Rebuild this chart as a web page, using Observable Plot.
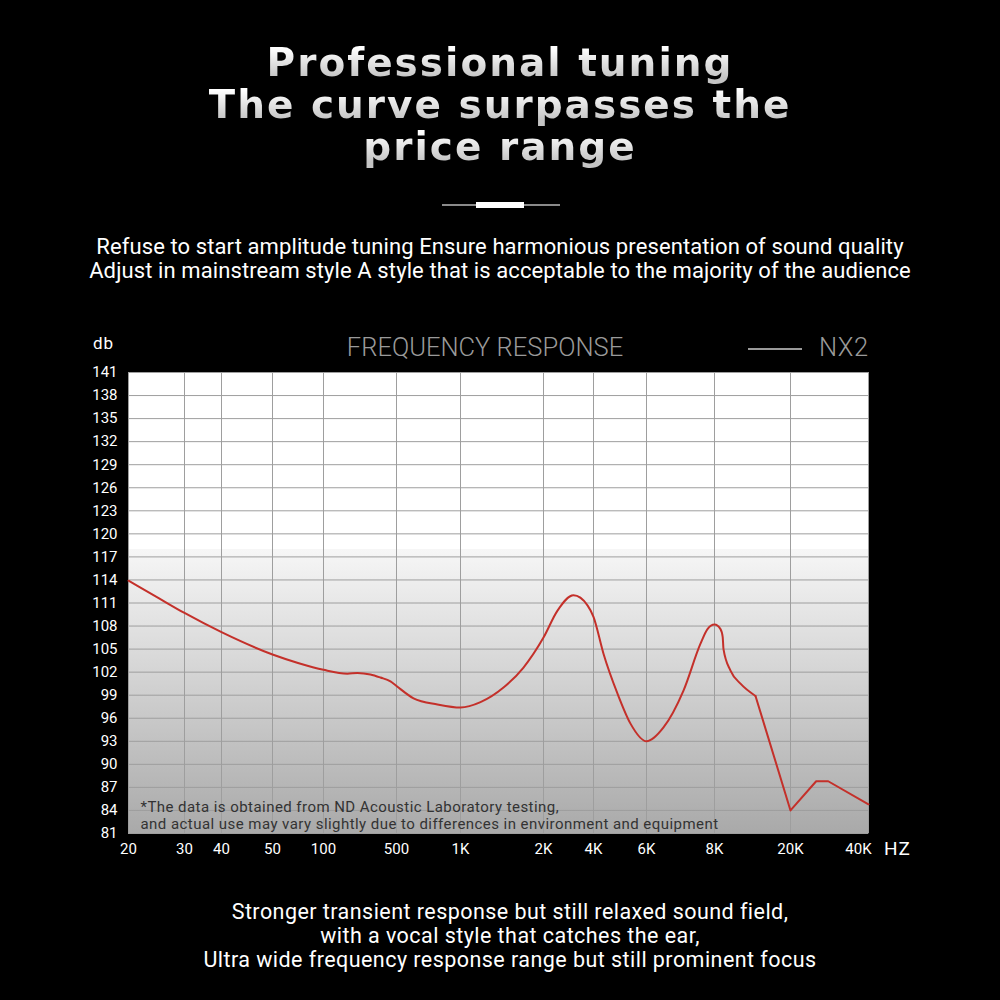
<!DOCTYPE html>
<html>
<head>
<meta charset="utf-8">
<script src="https://cdn.jsdelivr.net/npm/d3@7"></script>
<script src="https://cdn.jsdelivr.net/npm/@observablehq/plot@0.6"></script>
<style>
  html, body { margin: 0; padding: 0; background: #000; }
  body { width: 1000px; height: 1000px; position: relative; overflow: hidden; font-family: Roboto, "Open Sans", sans-serif; color: #fff; }
  .abs { position: absolute; }
  #title { top: 42px; left: 0; width: 1000px; text-align: center; font-family: "DejaVu Sans", sans-serif; font-weight: bold; font-size: 39px; letter-spacing: 2px; z-index: 2; }
  #title span { display: block; height: 42px; line-height: 42px; margin: 0 auto; width: max-content;
    background: linear-gradient(180deg, #ffffff 15%, #c4c4c4 85%); -webkit-background-clip: text; background-clip: text; color: transparent; }
  #sub { top: 235px; left: 0; width: 1000px; text-align: center; font-size: 22px; line-height: 24px; letter-spacing: 0.1px; z-index: 2; }
  #cap { top: 900px; left: 10px; width: 1000px; text-align: center; font-size: 21.5px; line-height: 24px; letter-spacing: 0.45px; z-index: 2; }
  #chartTitle { top: 332px; left: 285px; width: 400px; text-align: center; font-size: 25.5px; font-weight: 300; color: #9a9a9a; line-height: 30px; z-index: 2; }
  #legLine { top: 348px; left: 748px; width: 54px; height: 1.5px; background: #9a9a9a; z-index: 2; }
  #legText { top: 332px; left: 819px; font-size: 25.5px; font-weight: 300; color: #9a9a9a; line-height: 30px; letter-spacing: 0.5px; z-index: 2; }
  #db { top: 332px; left: 93px; font-size: 17px; line-height: 22px; letter-spacing: 1px; z-index: 2; }
  #hz { top: 837px; left: 884px; font-size: 19px; line-height: 24px; letter-spacing: 1px; z-index: 2; }
  #chart { top: 330px; left: 0; z-index: 1; }
  #chart g[aria-label="text"] text { letter-spacing: 0.45px; }
</style>
</head>
<body>
<div id="chart" class="abs"></div>
<div id="title" class="abs"><span>Professional tuning</span><span>The curve surpasses the</span><span>price range</span></div>
<div class="abs" style="top:204px;left:442px;width:118px;height:1.5px;background:#8a8a8a;"></div>
<div class="abs" style="top:202px;left:476px;width:48px;height:6px;background:#fff;"></div>
<div id="sub" class="abs">Refuse to start amplitude tuning Ensure harmonious presentation of sound quality<br>Adjust in mainstream style A style that is acceptable to the majority of the audience</div>
<div id="chartTitle" class="abs">FREQUENCY RESPONSE</div>
<div id="legLine" class="abs"></div>
<div id="legText" class="abs">NX2</div>
<div id="db" class="abs">db</div>
<div id="hz" class="abs">HZ</div>
<div id="cap" class="abs">Stronger transient response but still relaxed sound field,<br>with a vocal style that catches the ear,<br>Ultra wide frequency response range but still prominent focus</div>
<script>
// ---- Data ----
const tickFreqs  = [20, 30, 40, 50, 100, 500, 1000, 2000, 4000, 6000, 8000, 20000, 40000];
const tickLabels = ["20", "30", "40", "50", "100", "500", "1K", "2K", "4K", "6K", "8K", "20K", "40K"];
const yTicks = [81, 84, 87, 90, 93, 96, 99, 102, 105, 108, 111, 114, 117, 120, 123, 126, 129, 132, 135, 138, 141];

// smooth part of the NX2 curve
const smoothFreq = [20, 25, 30, 40, 50, 75, 100, 231, 286, 357, 412, 467, 500, 633, 820, 1000, 1241, 1518, 1759, 2000, 2560, 3200, 3760, 4000, 4377, 4906, 5396, 6000, 6500, 7088, 7588, 7794, 8000, 8947, 9290, 9421, 10526, 12105, 14474];
const smoothDb   = [113.9, 111.8, 109.7, 107.2, 104.3, 103.2, 102.3, 101.8, 101.9, 101.7, 101.3, 100.8, 100.2, 98.6, 97.8, 97.4, 98.1, 100.0, 102.6, 106.5, 110.0, 112.0, 110.7, 109.2, 104.4, 99.2, 95.3, 93.0, 94.8, 99.6, 105.7, 107.6, 108.2, 107.6, 106.6, 105.0, 102.2, 100.5, 98.9];
// straight-segment tail
const tailFreq = [14474, 20000, 26590, 29667, 40000];
const tailDb   = [98.9, 84.0, 87.8, 87.8, 84.8];

const footnote = "*The data is obtained from ND Acoustic Laboratory testing,\nand actual use may vary slightly due to differences in environment and equipment";

// ---- Build ----
const smooth = smoothFreq.map((f, i) => ({f, db: smoothDb[i]}));
const tail = tailFreq.map((f, i) => ({f, db: tailDb[i]}));
const labelOf = new Map(tickFreqs.map((f, i) => [f, tickLabels[i]]));

// piecewise (non-uniform) frequency axis as in the original artwork
const tickPx = [128, 184, 221, 272, 323, 396, 460, 543, 593, 646, 714, 790, 868];

const defs = () => {
  const d = d3.create("svg:defs");
  const g = d.append("linearGradient").attr("id", "bg").attr("x1", 0).attr("x2", 0).attr("y1", 0).attr("y2", 1);
  [["0%", "#ffffff"], ["38.2%", "#ffffff"], ["38.4%", "#f6f6f6"], ["100%", "#a9a9a9"]]
    .forEach(([o, c]) => g.append("stop").attr("offset", o).attr("stop-color", c));
  return d.node();
};

const chart = Plot.plot({
  width: 1000,
  height: 540,
  marginLeft: 128,
  marginRight: 132,
  marginTop: 42,
  marginBottom: 37,
  style: {background: "transparent", color: "#fff", fontFamily: "Roboto, sans-serif", fontSize: "15px"},
  x: {type: "linear", domain: tickFreqs, range: tickPx},
  y: {domain: [81, 141]},
  marks: [
    defs,
    Plot.frame({fill: "url(#bg)", stroke: null}),
    Plot.gridX(tickFreqs, {stroke: "#9e9e9e", strokeOpacity: 1, strokeWidth: 1}),
    Plot.gridY(yTicks, {stroke: "#9e9e9e", strokeOpacity: 1, strokeWidth: 1}),
    Plot.axisY(yTicks, {tickSize: 0, tickPadding: 11, fill: "#fff", fontSize: 15, label: null}),
    Plot.axisX(tickFreqs.slice(0, -1), {tickSize: 0, tickPadding: 10, fill: "#fff", fontSize: 15, label: null, tickFormat: d => labelOf.get(d)}),
    Plot.axisX(tickFreqs.slice(-1), {tickSize: 0, tickPadding: 10, fill: "#fff", fontSize: 15, label: null, dx: -10, tickFormat: d => labelOf.get(d)}),
    Plot.text([footnote], {frameAnchor: "bottom-left", textAnchor: "start", lineAnchor: "bottom", dx: 12, dy: -5, fontSize: 15, lineHeight: 1.13, fill: "#333", text: d => d}),
    Plot.line(smooth, {x: "f", y: "db", stroke: "#c4302a", strokeWidth: 2, curve: "monotone-x"}),
    Plot.line(tail, {x: "f", y: "db", stroke: "#c4302a", strokeWidth: 2})
  ]
});
document.getElementById("chart").appendChild(chart);
</script>
</body>
</html>
